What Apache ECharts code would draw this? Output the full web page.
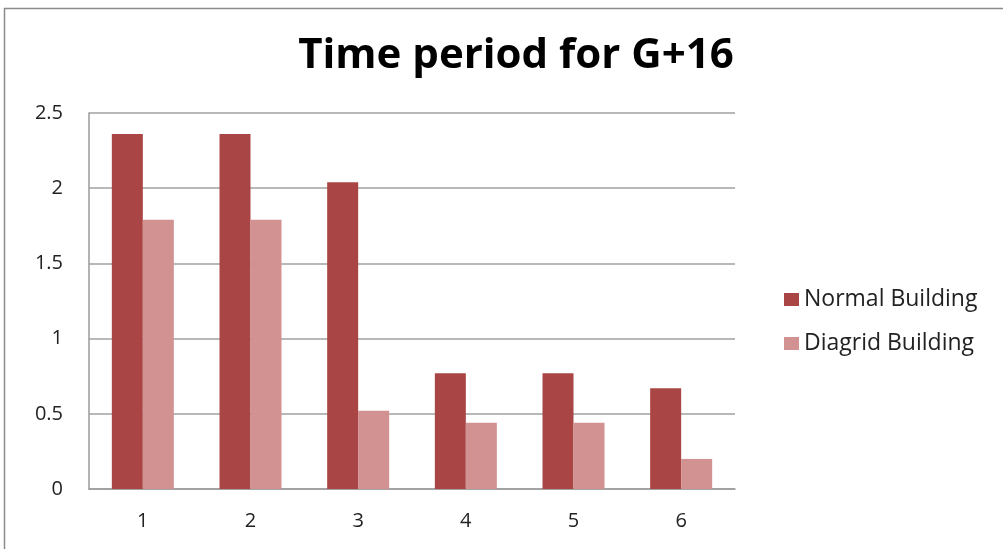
<!DOCTYPE html>
<html>
<head>
<meta charset="utf-8">
<script src="https://cdn.jsdelivr.net/npm/echarts@6/dist/echarts.min.js"></script>
<style>
  html, body { margin: 0; padding: 0; background: #fff; }
  #chart { width: 1003px; height: 549px; }
</style>
</head>
<body>
<div id="chart"></div>
<script>
// data
var categories = ["1", "2", "3", "4", "5", "6"];
var normalBuilding = [2.36, 2.36, 2.04, 0.77, 0.77, 0.67];
var diagridBuilding = [1.79, 1.79, 0.52, 0.44, 0.44, 0.20];
var seriesNames = ["Normal Building", "Diagrid Building"];

var font = "'Open Sans', 'Noto Sans', sans-serif";

var myChart = echarts.init(document.getElementById("chart"));
myChart.setOption({
  animation: false,
  color: ["#A94645", "#D39292"],
  title: {
    text: "Time period for G+16",
    left: 511,
    textAlign: "center",
    top: 30,
    textStyle: { fontFamily: font, fontSize: 42, fontWeight: "bold", color: "#000" }
  },
  graphic: [{
    type: "rect",
    shape: { x: 4.5, y: 8.5, width: 1010, height: 560 },
    style: { fill: "none", stroke: "#8c8c8c", lineWidth: 1.5 }
  }],
  legend: {
    orient: "vertical",
    left: 779,
    top: 283,
    itemWidth: 15,
    itemHeight: 13,
    itemGap: 21,
    icon: "rect",
    textStyle: { fontFamily: font, fontSize: 23, color: "#222" },
    data: seriesNames
  },
  grid: { left: 89, right: 268, top: 113, bottom: 60 },
  xAxis: {
    type: "category",
    data: categories,
    axisLine: { lineStyle: { color: "#9a9a9a", width: 1.5 } },
    axisTick: { show: false },
    axisLabel: { fontFamily: font, fontSize: 20, color: "#222", margin: 22 }
  },
  yAxis: {
    type: "value",
    min: 0,
    max: 2.5,
    interval: 0.5,
    axisLine: { show: true, lineStyle: { color: "#9a9a9a", width: 1.5 } },
    axisTick: { show: false },
    splitLine: { lineStyle: { color: "#a0a0a0", width: 1.5 } },
    axisLabel: { fontFamily: font, fontSize: 20, color: "#222", margin: 26,
      formatter: function (v) { return String(v); } }
  },
  series: [
    { name: seriesNames[0], type: "bar", data: normalBuilding, barWidth: 31, barGap: "0%" },
    { name: seriesNames[1], type: "bar", data: diagridBuilding, barWidth: 31, barGap: "0%" }
  ]
});
</script>
</body>
</html>
